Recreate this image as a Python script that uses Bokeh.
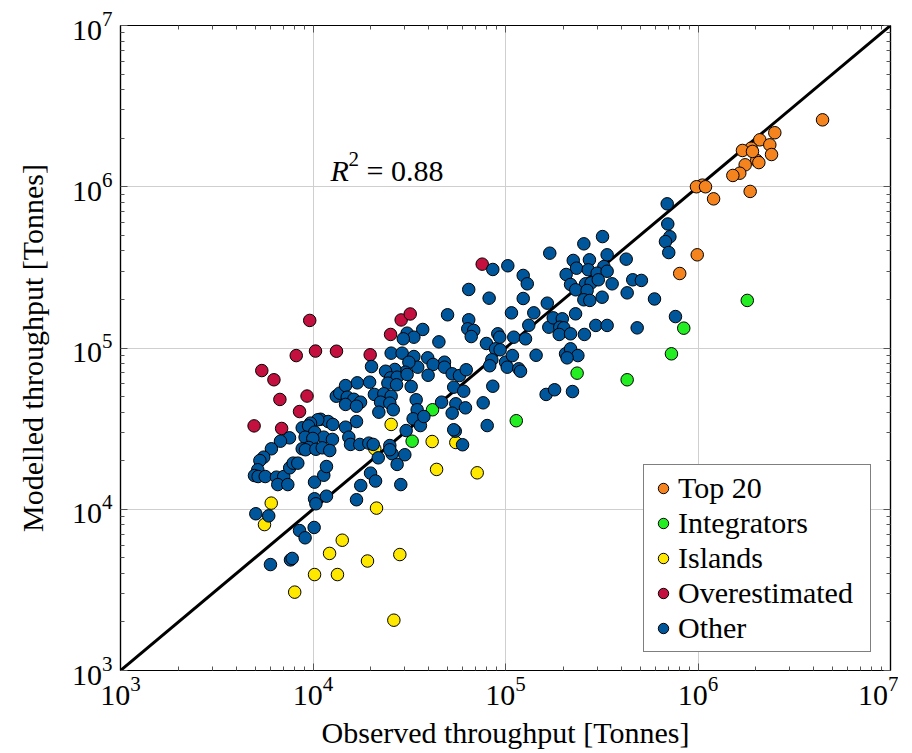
import numpy as np
from bokeh.plotting import figure
from bokeh.models import (FixedTicker, LogAxis, LogTickFormatter, Label, Range1d,
                          CustomJSTickFormatter)
from bokeh.embed import file_html
from bokeh.resources import INLINE

# ---------------- data (log10 of tonnes) ----------------
axis_bounds = [1e3, 1e7]
major_ticks = [1e3, 1e4, 1e5, 1e6, 1e7]

top20_log_observed = [6.647, 6.399, 6.321, 6.373, 6.276, 6.382, 6.305, 6.316, 6.245, 6.217,
                      6.181, 6.023, 5.992, 6.271, 6.081, 5.996, 5.905, 6.231, 6.283, 6.039]
top20_log_modelled = [6.415, 6.335, 6.291, 6.260, 6.239, 6.200, 6.163, 6.150, 6.136, 6.084,
                      6.070, 6.010, 6.000, 5.971, 5.925, 5.578, 5.462, 6.225, 6.219, 6.000]

integrators_log_observed = [6.256, 5.926, 5.862, 5.632, 5.372, 5.056, 4.621, 4.515]
integrators_log_modelled = [5.295, 5.123, 4.964, 4.803, 4.844, 4.549, 4.617, 4.422]

islands_log_observed = [4.406, 4.619, 4.742, 4.321, 4.642, 4.853, 4.330, 4.152, 4.283,
                        4.451, 4.127, 4.420, 3.783, 3.748, 4.086, 4.008, 3.905]
islands_log_modelled = [4.526, 4.420, 4.414, 4.375, 4.247, 4.226, 4.007, 3.808, 3.679,
                        3.719, 3.595, 3.312, 4.038, 3.905, 3.726, 3.595, 3.486]

over_log_observed = [3.983, 4.013, 4.122, 3.913, 3.734, 3.797, 3.828, 3.969, 3.930, 3.694,
                     3.837, 4.297, 4.403, 4.458, 4.505, 4.879]
over_log_modelled = [5.171, 4.981, 4.980, 4.953, 4.860, 4.803, 4.681, 4.702, 4.606, 4.517,
                     4.501, 4.958, 5.084, 5.174, 5.211, 5.520]

other_log_observed = [
    4.039, 4.079, 4.103, 4.025, 3.987, 3.944, 3.977, 4.009, 4.056, 4.101,
    3.959, 3.999, 3.978, 3.944, 3.961, 4.015, 4.048, 4.087, 3.878, 3.831,
    3.784, 3.744, 3.724, 3.713, 3.696, 3.715, 3.752, 3.810, 3.848, 3.817,
    3.869, 3.879, 3.897, 3.921, 4.008, 4.056, 4.070, 4.008, 4.015, 4.070,
    4.121, 4.139, 4.299, 4.325, 4.248, 4.226, 4.456, 3.703, 3.770, 3.930,
    3.959, 4.006, 3.779, 3.883, 3.892, 4.739,
    5.230, 5.012, 4.934, 5.092, 5.113, 4.809, 4.915, 5.092, 5.217, 4.699,
    4.809, 5.031, 5.147, 5.121, 4.570, 4.489, 4.524, 4.469, 4.804, 4.835,
    4.822, 4.654, 4.901, 4.960, 4.970, 5.043, 5.104, 5.225, 4.948, 4.972,
    4.929, 4.918, 5.000, 5.036, 5.009, 5.069, 5.078, 5.159, 4.934, 5.211,
    4.884, 4.905, 4.406, 4.463, 4.524, 4.596, 4.544, 4.498, 4.683, 4.624,
    4.683, 4.723, 4.761, 4.796, 4.598, 4.731, 4.783, 4.668, 4.742, 4.792,
    4.723, 4.731, 4.777, 4.479, 4.425, 4.377, 4.403, 4.437, 4.489, 4.510,
    4.389, 4.434, 4.304, 4.294, 4.230, 4.169, 4.178, 4.212, 4.247, 4.169,
    4.226, 4.319, 4.368, 4.406, 4.351, 4.399, 4.342, 4.417, 4.536, 4.541,
    4.520, 4.558, 4.576, 4.484, 4.226, 4.169, 4.186, 4.195, 4.243, 4.290,
    4.313, 4.399, 4.411, 4.477, 4.437, 4.339, 4.399,
    5.504, 5.407, 5.352, 5.436, 5.528, 5.627, 5.511, 5.369, 5.430, 5.476,
    5.528, 5.315, 5.338, 5.416, 5.445, 5.482, 5.554, 5.661, 5.632, 5.365,
    5.424, 5.407, 5.438, 5.502, 5.248, 5.295, 5.364, 5.282, 5.303, 5.279,
    5.338, 5.410, 5.469, 5.528, 5.684, 5.312, 5.338, 5.376, 5.320, 5.255,
    5.348, 5.840, 5.843, 5.854, 5.831, 5.848, 5.774, 5.706, 5.883]
other_log_modelled = [
    4.558, 4.544, 4.526, 4.555, 4.534, 4.505, 4.517, 4.478, 4.447, 4.433,
    4.447, 4.439, 4.383, 4.375, 4.369, 4.372, 4.381, 4.364, 4.443, 4.422,
    4.375, 4.323, 4.302, 4.245, 4.209, 4.203, 4.203, 4.199, 4.203, 4.153,
    4.153, 4.257, 4.286, 4.286, 4.168, 4.211, 4.265, 4.065, 4.034, 4.081,
    4.701, 4.720, 4.224, 4.175, 4.147, 4.059, 4.153, 3.972, 3.959, 3.868,
    3.823, 3.887, 3.657, 3.686, 3.695, 4.484,
    5.588, 5.510, 5.487, 5.450, 5.398, 5.363, 5.309, 5.307, 5.278, 5.206,
    5.175, 5.218, 5.218, 5.141, 5.115, 5.092, 5.067, 5.057, 5.119, 5.109,
    5.071, 5.038, 5.028, 5.088, 5.067, 5.067, 5.057, 5.129, 4.995, 4.989,
    4.927, 4.890, 4.912, 4.953, 4.881, 4.871, 4.856, 4.955, 4.763, 4.712,
    4.660, 4.519, 4.968, 4.968, 4.947, 4.939, 4.881, 4.912, 4.912, 4.898,
    4.881, 4.840, 4.829, 4.865, 4.831, 4.757, 4.732, 4.664, 4.654, 4.629,
    4.596, 4.493, 4.400, 4.850, 4.867, 4.856, 4.815, 4.819, 4.836, 4.761,
    4.782, 4.772, 4.885, 4.788, 4.784, 4.767, 4.695, 4.682, 4.664, 4.650,
    4.639, 4.712, 4.716, 4.701, 4.664, 4.658, 4.602, 4.617, 4.679, 4.617,
    4.561, 4.519, 4.575, 4.488, 4.544, 4.509, 4.447, 4.402, 4.402, 4.410,
    4.402, 4.395, 4.344, 4.338, 4.278, 4.319, 4.369,
    5.691, 5.646, 5.543, 5.547, 5.578, 5.551, 5.505, 5.495, 5.485, 5.464,
    5.476, 5.456, 5.394, 5.398, 5.404, 5.423, 5.398, 5.423, 5.342, 5.361,
    5.357, 5.299, 5.295, 5.315, 5.187, 5.181, 5.212, 5.129, 5.125, 5.084,
    5.088, 5.084, 5.140, 5.140, 5.125, 4.964, 4.995, 4.953, 4.939, 4.741,
    4.730, 5.894, 5.769, 5.690, 5.660, 5.592, 5.304, 5.419, 5.195]

r2_text = "= 0.88"

# ---------------- figure ----------------
FONT = "Liberation Serif"
FS = "30px"

minor_ticks = [m * d for d in [1e3, 1e4, 1e5, 1e6] for m in range(2, 10)]
ticker = FixedTicker(ticks=major_ticks, minor_ticks=minor_ticks)

p = figure(width=898, height=752, x_axis_type="log", y_axis_type="log",
           x_range=Range1d(*axis_bounds), y_range=Range1d(*axis_bounds),
           output_backend="svg", toolbar_location=None,
           min_border_left=120, min_border_right=8, min_border_top=25, min_border_bottom=82)
p.background_fill_color = "white"
p.border_fill_color = "white"
p.outline_line_color = "black"
p.outline_line_width = 1.2

def style_axis(ax, show_labels=True):
    ax.ticker = ticker
    ax.axis_line_color = "black"
    ax.axis_line_width = 1.2
    ax.major_tick_in = 7
    ax.major_tick_out = 0
    ax.minor_tick_in = 4
    ax.minor_tick_out = 0
    ax.major_tick_line_color = "#555555"
    ax.minor_tick_line_color = "#555555"
    ax.major_label_text_font = FONT
    ax.major_label_text_color = "black"
    ax.axis_label_text_font = FONT
    ax.axis_label_text_font_style = "normal"
    ax.axis_label_text_font_size = FS
    ax.axis_label_text_color = "black"
    if show_labels:
        ax.formatter = LogTickFormatter()
        ax.major_label_text_font_size = FS
        ax.major_label_standoff = 8
    else:
        ax.formatter = CustomJSTickFormatter(code="return ''")
        ax.major_label_text_font_size = "2px"
        ax.major_label_text_color = None
        ax.major_label_standoff = 0

for ax in p.xaxis + p.yaxis:
    style_axis(ax)
p.xaxis.axis_label = "Observed throughput [Tonnes]"
p.yaxis.axis_label = "Modelled throughput [Tonnes]"
p.xaxis.major_label_standoff = 6
p.xaxis.axis_label_standoff = 8
p.yaxis.axis_label_standoff = 20

top_axis = LogAxis()
style_axis(top_axis, show_labels=False)
right_axis = LogAxis()
style_axis(right_axis, show_labels=False)
p.add_layout(top_axis, "above")
p.add_layout(right_axis, "right")

p.xgrid.ticker = ticker
p.ygrid.ticker = ticker
p.xgrid.grid_line_color = "#cfcfcf"
p.ygrid.grid_line_color = "#cfcfcf"
p.xgrid.grid_line_width = 1
p.ygrid.grid_line_width = 1

# identity line
p.line(axis_bounds, axis_bounds, line_color="black", line_width=3)

def pts(a):
    return list(10 ** np.array(a))

groups = [
    ("Top 20", top20_log_observed, top20_log_modelled, "#f5841f"),
    ("Integrators", integrators_log_observed, integrators_log_modelled, "#22ee22"),
    ("Islands", islands_log_observed, islands_log_modelled, "#ffe800"),
    ("Overestimated", over_log_observed, over_log_modelled, "#c3103f"),
    ("Other", other_log_observed, other_log_modelled, "#00569a"),
]
for name, xo, ym, col in groups:
    p.scatter(pts(xo), pts(ym), size=12.5, fill_color=col, line_color="black",
              line_width=1, legend_label=name)

# R^2 annotation
r2_x, r2_y = 1.233e4, 1.262e6
p.add_layout(Label(x=r2_x, y=r2_y, text="R", text_font=FONT, text_font_style="italic",
                   text_font_size=FS, text_baseline="alphabetic", text_color="black"))
p.add_layout(Label(x=r2_x, y=r2_y, x_offset=18, y_offset=11, text="2", text_font=FONT,
                   text_font_size="21px", text_baseline="alphabetic", text_color="black"))
p.add_layout(Label(x=r2_x, y=r2_y, x_offset=36, text=r2_text, text_font=FONT,
                   text_font_size=FS, text_baseline="alphabetic", text_color="black"))

lg = p.legend[0]
lg.location = (523, 18)
lg.label_text_font = FONT
lg.label_text_font_size = FS
lg.label_text_color = "black"
lg.glyph_width = 26
lg.glyph_height = 26
lg.label_standoff = 2
lg.label_height = 33
lg.label_width = 186
lg.spacing = 1
lg.padding = 6
lg.margin = 0
lg.border_line_color = "black"
lg.border_line_width = 1
lg.background_fill_alpha = 1

open("out.html", "w").write(file_html(p, INLINE))
